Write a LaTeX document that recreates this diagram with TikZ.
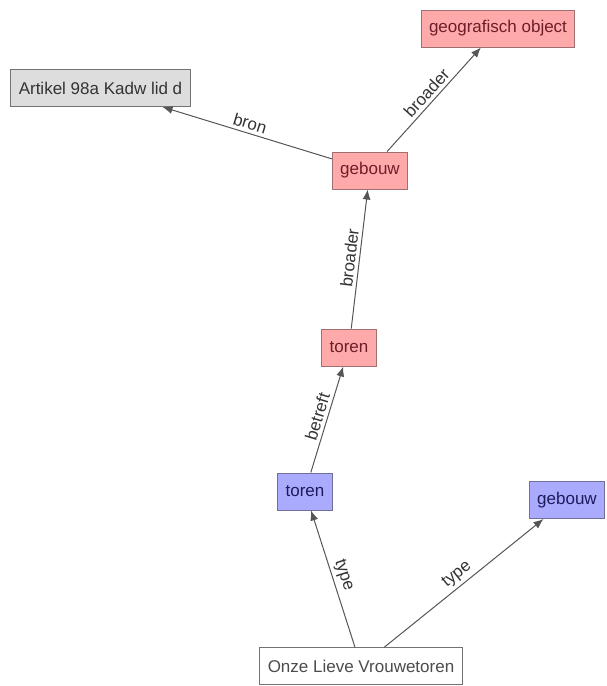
\documentclass[tikz,border=0pt]{standalone}
\usepackage{fontspec}
\setmainfont{Liberation Sans}
\usetikzlibrary{arrows.meta}

\definecolor{kfillred}{HTML}{FFAAAA}
\definecolor{klinered}{HTML}{A07070}
\definecolor{ktextred}{HTML}{6E1E28}
\definecolor{kfillblue}{HTML}{AAAAFF}
\definecolor{klineblue}{HTML}{707096}
\definecolor{ktextblue}{HTML}{1E1A5A}
\definecolor{kfillgray}{HTML}{DDDDDD}
\definecolor{kedge}{HTML}{555555}

\begin{document}
\begin{tikzpicture}[x=1pt, y=-1pt,
	box/.style={draw, line width=1pt, inner xsep=8pt, minimum height=37pt,
		font=\fontsize{17}{20}\selectfont},
	begrip/.style={box, fill=kfillred, draw=klinered, text=ktextred},
	klasse/.style={box, fill=kfillblue, draw=klineblue, text=ktextblue},
	bron/.style={box, fill=kfillgray, draw=black!55, text=black!80},
	object/.style={box, fill=white, draw=black!55, text=black!70},
	rel/.style={-{Latex[length=10pt, width=8pt]}, kedge, line width=1pt},
	lbl/.style={midway, sloped, above, text=black!80, font=\fontsize{17}{20}\selectfont}]
	\useasboundingbox (0,0) rectangle (606,686);
	\node[begrip] (geo) at (498, 28.5) {geografisch object};
	\node[bron] (artikel) at (100.5, 88) {Artikel 98a Kadw lid d};
	\node[begrip] (gebouw) at (370, 170.5) {gebouw};
	\node[begrip] (toren) at (349, 347.5) {toren};
	\node[klasse] (torenk) at (305, 491.5) {toren};
	\node[klasse] (gebouwk) at (567, 500) {gebouw};
	\node[object] (olv) at (361, 666) {Onze Lieve Vrouwetoren};
	\draw[rel] (gebouw) -- (artikel) node[lbl] {bron};
	\draw[rel] (gebouw) -- (geo) node[lbl] {broader};
	\draw[rel] (toren) -- (gebouw) node[lbl] {broader};
	\draw[rel] (torenk) -- (toren) node[lbl] {betreft};
	\draw[rel] (olv) -- (torenk) node[lbl] {type};
	\draw[rel] (olv) -- (gebouwk) node[lbl] {type};
	\end{tikzpicture}
\end{document}
